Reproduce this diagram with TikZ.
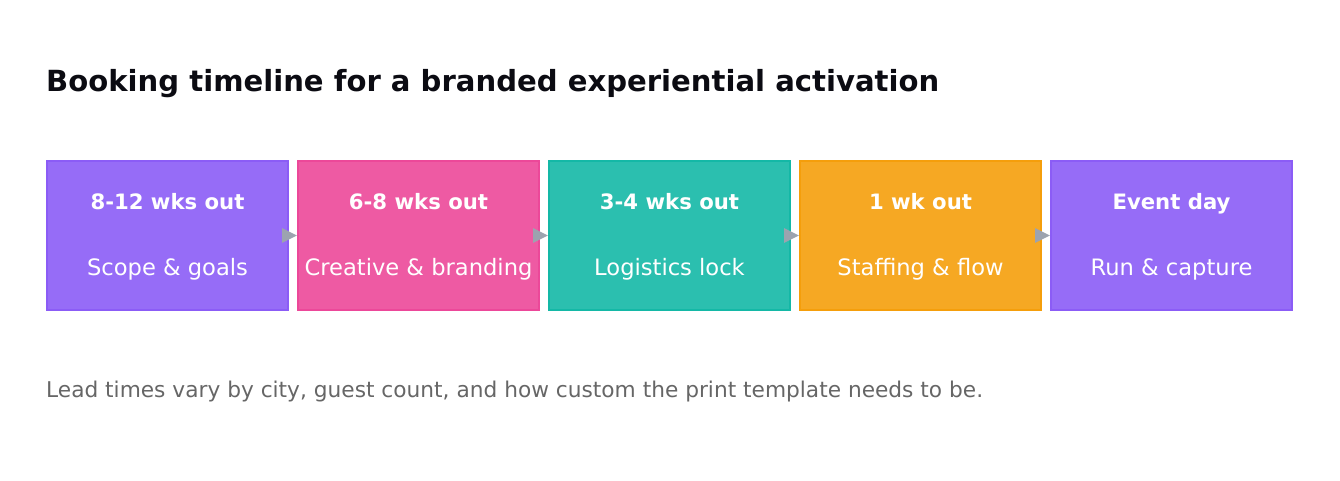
\documentclass[tikz,border=0pt]{standalone}
\usepackage{fontspec}
\setmainfont{DejaVu Sans}
\usetikzlibrary{arrows.meta}
\definecolor{cpur}{HTML}{8B5CF6}
\definecolor{cpink}{HTML}{EC4899}
\definecolor{cteal}{HTML}{14B8A6}
\definecolor{corange}{HTML}{F59E0B}
\definecolor{carrow}{HTML}{9CA3AF}
\definecolor{csub}{HTML}{666666}
\definecolor{ctitle}{HTML}{0B0B12}
\begin{document}
\begin{tikzpicture}[x=1pt,y=-1pt,
  stage/.style={draw=#1, fill=#1, fill opacity=0.9, draw opacity=1, line width=2pt, minimum width=241pt, minimum height=149pt, inner sep=0pt, anchor=north west},
  head/.style={text=white, font=\bfseries\fontsize{21.2}{25}\selectfont, anchor=base, inner sep=0pt},
  lab/.style={text=white, font=\fontsize{22.6}{27}\selectfont, anchor=base, inner sep=0pt},
  conn/.style={draw=carrow, line width=0.1pt, draw opacity=0, -{Triangle[length=15pt,width=15pt,fill=carrow,color=carrow]}}
]
\useasboundingbox (0,0) rectangle (1340,480);
\node[anchor=base west, text=ctitle, font=\bfseries\fontsize{29.1}{34}\selectfont, inner sep=0pt] (title) at (46,91) {Booking timeline for a branded experiential activation};
\node[stage=cpur] (b1) at (46,160) {};
\node[stage=cpink] (b2) at (297,160) {};
\node[stage=cteal] (b3) at (548,160) {};
\node[stage=corange] (b4) at (799,160) {};
\node[stage=cpur] (b5) at (1050,160) {};
\foreach \b/\h/\l in {b1/8-12 wks out/Scope \& goals, b2/6-8 wks out/Creative \& branding, b3/3-4 wks out/Logistics lock, b4/1 wk out/Staffing \& flow, b5/Event day/Run \& capture}{
  \node[head] (\b h) at (\b.north |- 0,209) {\h};
  \node[lab] (\b l) at (\b.north |- 0,275) {\l};
}
\foreach \a/\b in {b1/b2,b2/b3,b3/b4,b4/b5}{
  \draw[conn] (\a.east) -- (\b.west);
}
\node[anchor=base west, text=csub, font=\fontsize{21.7}{26}\selectfont, inner sep=0pt] (sub) at (46,397) {Lead times vary by city, guest count, and how custom the print template needs to be.};
\end{tikzpicture}
\end{document}
